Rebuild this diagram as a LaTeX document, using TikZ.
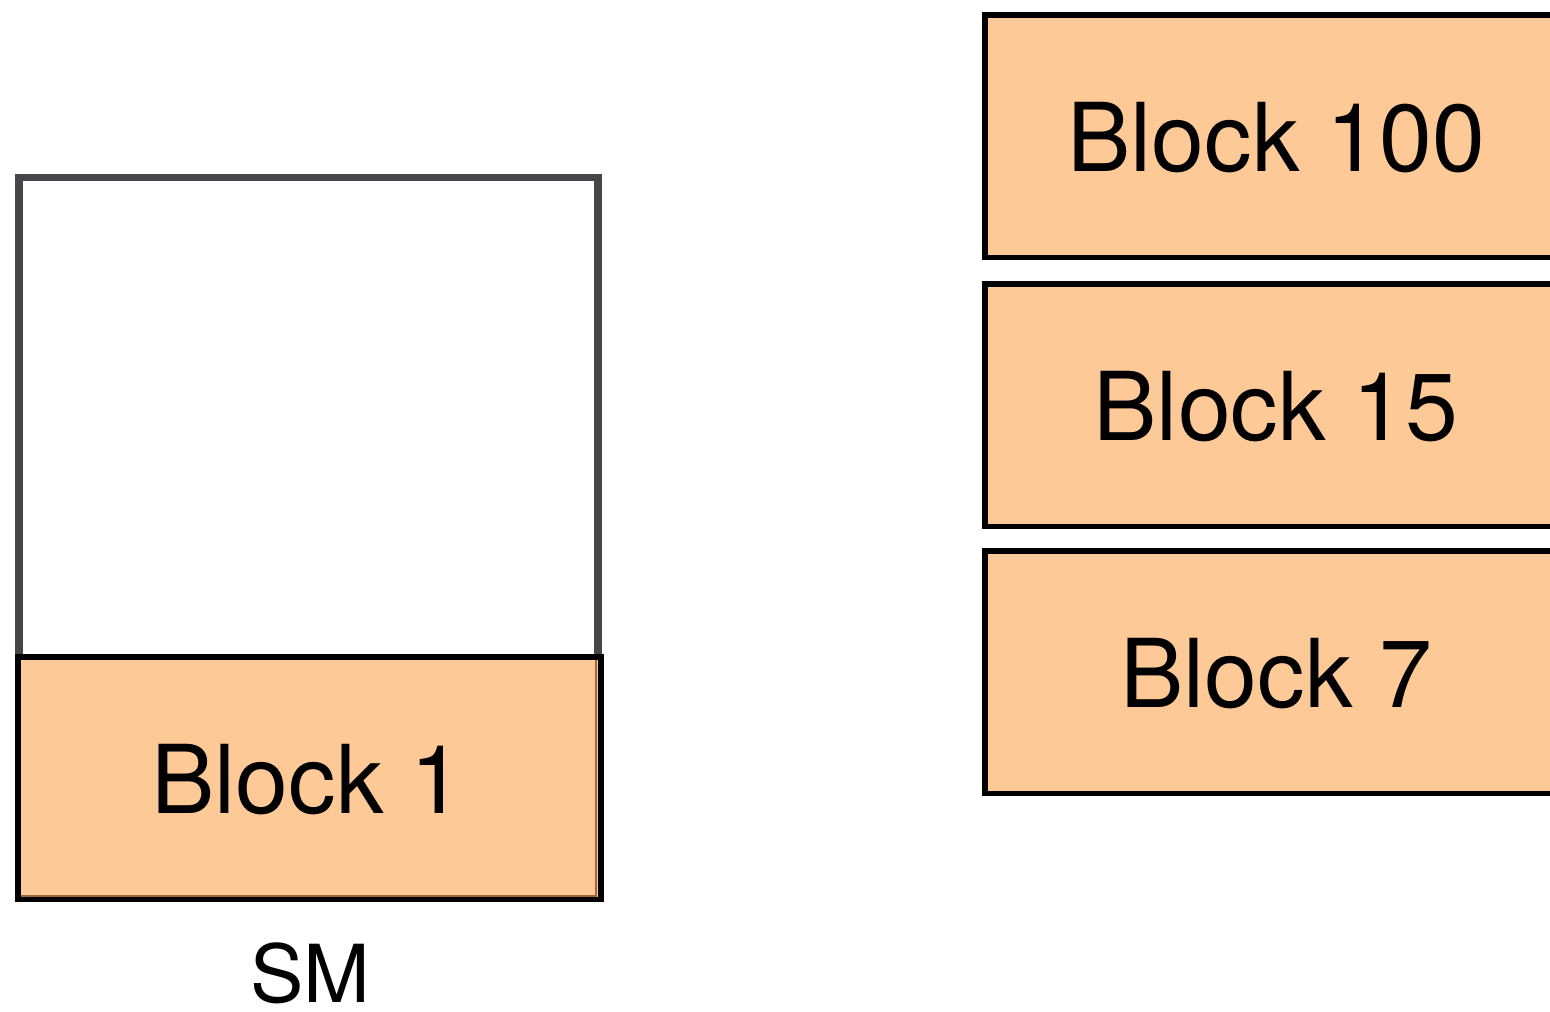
\documentclass[tikz,border=0pt]{standalone}
\usepackage{fontspec}
\setmainfont{TeX Gyre Heros}
\definecolor{blockfill}{RGB}{253,201,150}
\definecolor{smgray}{RGB}{70,70,74}
\definecolor{shadowbrown}{RGB}{154,106,62}
\begin{document}
\begin{tikzpicture}[x=0.5pt,y=-0.5pt,
  blockbox/.style={draw=black,fill=blockfill,line width=2.8pt},
  lbl/.style={font=\fontsize{47.5}{54}\selectfont,text=black},
  smlbl/.style={font=\fontsize{40}{44}\selectfont,text=black,inner sep=0pt}]
\useasboundingbox (0,0) rectangle (1550,1011);
\clip (0,0) rectangle (1550,1011);
% SM container
\draw[smgray,line width=3.6pt] (19,657) -- (19,177.5) -- (598,177.5) -- (598,657);
% Block 1
\draw[blockbox] (18,657) rectangle (601,899.5);
\draw[shadowbrown,line width=1.2pt] (596,660) -- (596,896) -- (21,896);
\node[lbl] (b1) at (307,780) {Block 1};
\node[smlbl,anchor=base] (sm) at (310,1002) {SM};
% right blocks
\draw[blockbox] (985,15) rectangle (1567,257.5);
\node[lbl] (b100) at (1276,138) {Block 100};
\draw[blockbox] (985,284) rectangle (1567,526.5);
\node[lbl] (b15) at (1276,407) {Block 15};
\draw[blockbox] (985,551) rectangle (1567,793.5);
\node[lbl] (b7) at (1276,674) {Block 7};
\end{tikzpicture}
\end{document}
